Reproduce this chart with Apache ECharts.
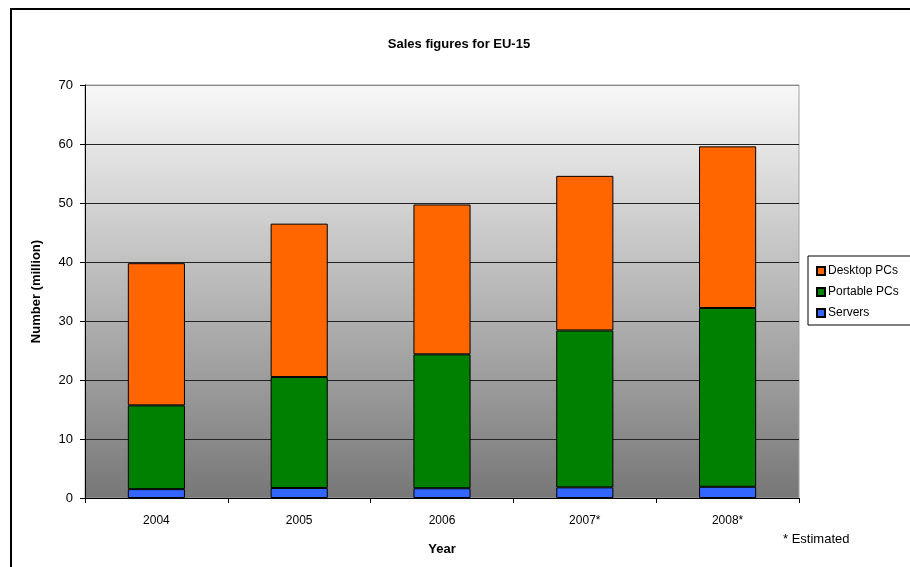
<!DOCTYPE html>
<html>
<head>
<meta charset="utf-8">
<script src="https://cdn.jsdelivr.net/npm/echarts@6/dist/echarts.min.js"></script>
<style>
  html, body { margin: 0; padding: 0; background: #fff; }
  #chart { width: 910px; height: 567px; }
</style>
</head>
<body>
<div id="chart"></div>
<script>
// Sales of IT equipment in the EU-15 (million units), stacked per year
const years = ['2004', '2005', '2006', '2007*', '2008*'];
const servers = [1.5, 1.7, 1.65, 1.8, 1.9];
const portablePCs = [14.2, 18.8, 22.7, 26.6, 30.3];
const desktopPCs = [24.1, 26.0, 25.4, 26.2, 27.4];
const yTicks = { min: 0, max: 70, interval: 10 };

const FONT = 'Arial, "Liberation Sans", sans-serif';
const chart = echarts.init(document.getElementById('chart'));

function barSeries(name, data, color) {
  return {
    name: name,
    type: 'bar',
    stack: 'total',
    data: data,
    barWidth: '40%',
    itemStyle: { color: color, borderColor: '#000', borderWidth: 1 },
    emphasis: { disabled: true }
  };
}

chart.setOption({
  animation: false,
  backgroundColor: '#fff',
  title: {
    text: 'Sales figures for EU-15',
    left: 454, textAlign: 'center',
    top: 33,
    textStyle: { fontFamily: FONT, fontSize: 13, fontWeight: 'bold', color: '#000' }
  },
  grid: {
    left: 85, top: 85, width: 714, height: 413,
    show: true,
    borderColor: '#a0a0a0',
    borderWidth: 1,
    backgroundColor: {
      type: 'linear', x: 0, y: 0, x2: 0, y2: 1,
      colorStops: [
        { offset: 0, color: '#f8f8f8' },
        { offset: 1, color: '#777777' }
      ]
    }
  },
  legend: {
    orient: 'vertical',
    left: 808, top: 256,
    data: ['Desktop PCs', 'Portable PCs', 'Servers'],
    icon: 'rect',
    itemWidth: 8, itemHeight: 8,
    itemGap: 9,
    padding: [9, 30, 6, 8],
    borderColor: '#000', borderWidth: 1,
    selectedMode: false,
    textStyle: { fontFamily: FONT, fontSize: 12, color: '#000', padding: [0, 0, 0, -2] }
  },
  xAxis: {
    type: 'category',
    data: years,
    name: 'Year',
    nameLocation: 'middle',
    nameGap: 45,
    nameTextStyle: { fontFamily: FONT, fontSize: 13, fontWeight: 'bold', color: '#000' },
    axisLine: { lineStyle: { color: '#000', width: 1 } },
    axisTick: { show: true, length: 5, lineStyle: { color: '#000' } },
    axisLabel: { fontFamily: FONT, fontSize: 12, color: '#000', margin: 17 }
  },
  yAxis: {
    type: 'value',
    min: yTicks.min, max: yTicks.max, interval: yTicks.interval,
    name: 'Number (million)',
    nameLocation: 'middle',
    nameGap: 42,
    nameTextStyle: { fontFamily: FONT, fontSize: 13, fontWeight: 'bold', color: '#000' },
    axisLine: { show: true, lineStyle: { color: '#000', width: 1 } },
    axisTick: { show: true, length: 5, lineStyle: { color: '#000' } },
    axisLabel: { fontFamily: FONT, fontSize: 13, color: '#000', margin: 12 },
    splitLine: {
      show: true,
      lineStyle: {
        color: ['#000', '#222', '#222', '#222', '#222', '#222', '#222', '#8a8a8a'],
        width: 1
      }
    }
  },
  graphic: [
    {
      type: 'rect',
      shape: { x: 11, y: 9, width: 920, height: 600 },
      style: { fill: null, stroke: '#000', lineWidth: 2 },
      silent: true, z: 100
    },
    {
      type: 'text',
      left: 783, top: 533,
      style: { text: '* Estimated', font: '13px ' + FONT, fill: '#000' }
    }
  ],
  series: [
    barSeries('Servers', servers, '#3366ff'),
    barSeries('Portable PCs', portablePCs, '#008000'),
    barSeries('Desktop PCs', desktopPCs, '#ff6600')
  ]
});
</script>
</body>
</html>
